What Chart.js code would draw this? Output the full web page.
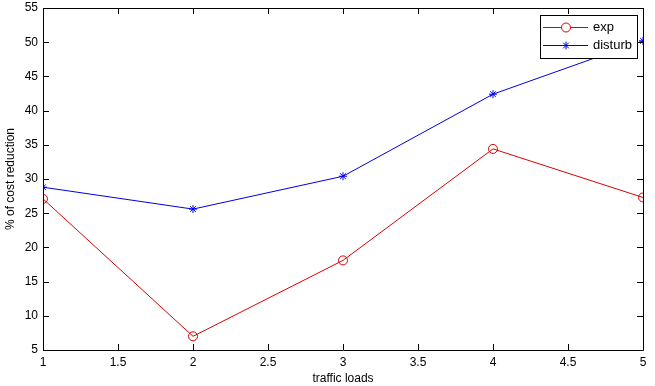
<!DOCTYPE html>
<html>
<head>
<meta charset="utf-8">
<script src="https://cdn.jsdelivr.net/npm/chart.js@4.4.0/dist/chart.umd.min.js"></script>
<style>
  html, body { margin: 0; padding: 0; background: #fff; }
  #wrap { width: 655px; height: 386px; }
</style>
</head>
<body>
<div id="wrap"><canvas id="chartLoads" width="655" height="386"></canvas></div>
<script>
// traffic loads along the x-axis
var loads = [1, 2, 3, 4, 5];
// % of cost reduction per series
var expValues = [27.1, 7.0, 18.1, 34.4, 27.3];
var disturbValues = [28.8, 25.6, 30.4, 42.4, 50.2];
// tick labels
var xTicks = [1, 1.5, 2, 2.5, 3, 3.5, 4, 4.5, 5];
var yTicks = [5, 10, 15, 20, 25, 30, 35, 40, 45, 50, 55];

var FONT = "'Liberation Sans', Arial, sans-serif";

function toPoints(vals) {
  return loads.map(function (x, i) { return { x: x, y: vals[i] }; });
}

// box round the plot with inward ticks on all four sides, like matlab
var boxPlugin = {
  id: 'box',
  afterDatasetsDraw: function (chart) {
    var c = chart.ctx, a = chart.chartArea;
    var xs = chart.scales.x, ys = chart.scales.y;
    c.save();
    c.strokeStyle = '#000';
    c.lineWidth = 1;
    c.beginPath();
    c.rect(Math.round(a.left) + 0.5, Math.round(a.top) + 0.5,
           Math.round(a.right - a.left), Math.round(a.bottom - a.top));
    xTicks.forEach(function (t) {
      var px = Math.round(xs.getPixelForValue(t)) + 0.5;
      c.moveTo(px, a.bottom); c.lineTo(px, a.bottom - 6);
      c.moveTo(px, a.top); c.lineTo(px, a.top + 6);
    });
    yTicks.forEach(function (t) {
      var py = Math.round(ys.getPixelForValue(t)) + 0.5;
      c.moveTo(a.left, py); c.lineTo(a.left + 6, py);
      c.moveTo(a.right, py); c.lineTo(a.right - 6, py);
    });
    c.stroke();
    c.restore();
  }
};

// legend box inside the plot, top right
var legendPlugin = {
  id: 'boxLegend',
  afterDraw: function (chart) {
    var c = chart.ctx;
    var bx = 540.5, by = 15.5, bw = 97, bh = 43;
    c.save();
    c.fillStyle = '#fff';
    c.fillRect(bx, by, bw, bh);
    c.strokeStyle = '#000';
    c.lineWidth = 1;
    c.strokeRect(bx, by, bw, bh);
    c.font = '13px ' + FONT;
    c.textBaseline = 'middle';
    chart.data.datasets.forEach(function (ds, i) {
      var y = 27.5 + i * 18;
      c.strokeStyle = ds.borderColor;
      c.beginPath();
      c.moveTo(543, y); c.lineTo(588, y);
      c.stroke();
      Chart.helpers.drawPoint(c, {
        pointStyle: ds.pointStyle, radius: ds.pointRadius,
        borderWidth: 1
      }, 566, y);
      c.fillStyle = '#000';
      c.fillText(ds.label, 593, y);
    });
    c.restore();
  }
};

var ctx = document.getElementById('chartLoads');
var chartLoads = new Chart(ctx, {
  type: 'line',
  data: {
    datasets: [
      {
        label: 'exp',
        data: toPoints(expValues),
        borderColor: '#dd0000',
        backgroundColor: 'rgba(0,0,0,0)',
        borderWidth: 1,
        pointStyle: 'circle',
        pointRadius: 4.5,
        pointBorderWidth: 1,
        pointBorderColor: '#dd0000',
        fill: false,
        tension: 0
      },
      {
        label: 'disturb',
        data: toPoints(disturbValues),
        borderColor: '#0000dd',
        backgroundColor: 'rgba(0,0,0,0)',
        borderWidth: 1,
        pointStyle: 'star',
        pointRadius: 4,
        pointBorderWidth: 1,
        pointBorderColor: '#0000ff',
        fill: false,
        tension: 0
      }
    ]
  },
  options: {
    responsive: false,
    animation: false,
    layout: { padding: { top: 8, right: 12, left: 3, bottom: 0 } },
    plugins: {
      legend: { display: false },
      tooltip: { enabled: false }
    },
    elements: { point: { hoverRadius: 5 } },
    scales: {
      x: {
        type: 'linear',
        min: 1, max: 5,
        afterBuildTicks: function (s) { s.ticks = xTicks.map(function (v) { return { value: v }; }); },
        afterFit: function (s) { s.height = 36; s.paddingLeft = 0; s.paddingRight = 0; },
        grid: { display: false, drawTicks: false },
        border: { display: false },
        ticks: {
          color: '#000', font: { family: FONT, size: 12 }, padding: 5, maxRotation: 0,
          callback: function (v) { return String(v); }
        },
        title: { display: true, text: 'traffic loads', color: '#000', font: { family: FONT, size: 12 }, padding: { top: 1, bottom: 0 } }
      },
      y: {
        type: 'linear',
        min: 5, max: 55,
        afterBuildTicks: function (s) { s.ticks = yTicks.map(function (v) { return { value: v }; }); },
        afterFit: function (s) { s.width = 40; s.paddingTop = 0; s.paddingBottom = 0; },
        grid: { display: false, drawTicks: false },
        border: { display: false },
        ticks: { color: '#000', font: { family: FONT, size: 12 }, padding: 5 },
        title: { display: true, text: '% of cost reduction', color: '#000', font: { family: FONT, size: 12 }, padding: { top: 0, bottom: 2 } }
      }
    }
  },
  plugins: [boxPlugin, legendPlugin]
});
</script>
</body>
</html>
